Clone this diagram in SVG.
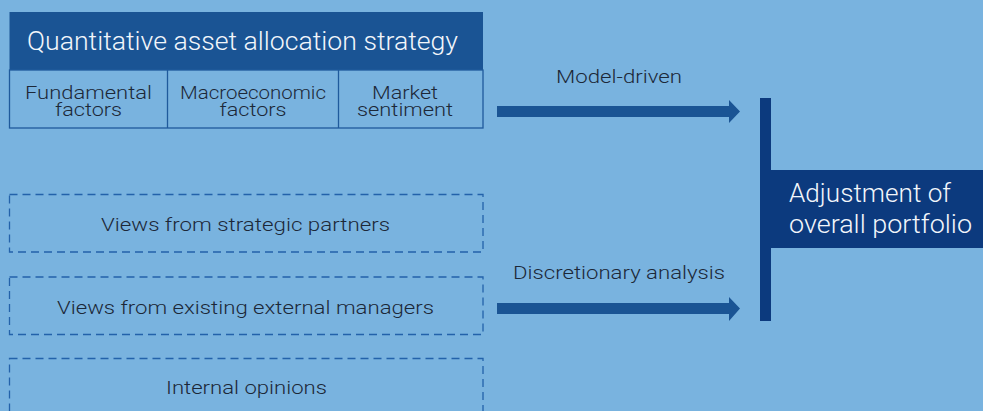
<svg xmlns="http://www.w3.org/2000/svg" width="983" height="411" viewBox="0 0 983 411">
<style>
.dark{font-family:Roboto,"Liberation Sans",sans-serif;font-weight:300;fill:#1c2838;font-size:19px;text-anchor:middle}
.light{font-family:Roboto,"Liberation Sans",sans-serif;font-weight:300;fill:#f2f6fb;font-size:25px}
.cell{fill:none;stroke:#1f5a9c;stroke-width:1.3}
.dash{fill:none;stroke:#2362aa;stroke-width:1.3;stroke-dasharray:8 5}
.arrow{fill:#1a5494}
</style>
<rect width="983" height="411" fill="#79b3df"/>
<g id="quant">
<rect x="9.5" y="12" width="473.5" height="58" fill="#1a5494"/>
<text class="light" x="27" y="50" textLength="431" lengthAdjust="spacingAndGlyphs">Quantitative asset allocation strategy</text>
<rect class="cell" x="9.5" y="70" width="473.5" height="58"/>
<line class="cell" x1="167.5" y1="70" x2="167.5" y2="128"/>
<line class="cell" x1="338.5" y1="70" x2="338.5" y2="128"/>
</g>
<g id="fundamental"><text class="dark" x="88.5" y="98.5" textLength="127" lengthAdjust="spacingAndGlyphs">Fundamental</text><text class="dark" x="88.5" y="116" textLength="67" lengthAdjust="spacingAndGlyphs">factors</text></g>
<g id="macro"><text class="dark" x="253" y="98.5" textLength="146" lengthAdjust="spacingAndGlyphs">Macroeconomic</text><text class="dark" x="253" y="116" textLength="67" lengthAdjust="spacingAndGlyphs">factors</text></g>
<g id="market"><text class="dark" x="405" y="98.5" textLength="66" lengthAdjust="spacingAndGlyphs">Market</text><text class="dark" x="405" y="116" textLength="96" lengthAdjust="spacingAndGlyphs">sentiment</text></g>
<g id="partners"><rect class="dash" x="9.5" y="194.5" width="473.5" height="57.5"/><text class="dark" x="245.5" y="231" textLength="289" lengthAdjust="spacingAndGlyphs">Views from strategic partners</text></g>
<g id="managers"><rect class="dash" x="9.5" y="277" width="473.5" height="57.5"/><text class="dark" x="245.5" y="314" textLength="377" lengthAdjust="spacingAndGlyphs">Views from existing external managers</text></g>
<g id="internal"><rect class="dash" x="9.5" y="358.5" width="473.5" height="60"/><text class="dark" x="246.5" y="394" textLength="161" lengthAdjust="spacingAndGlyphs">Internal opinions</text></g>
<g id="adjustment">
<rect x="771" y="170" width="212" height="78" fill="#0c3a7e"/>
<text class="light" x="789" y="202" textLength="162" lengthAdjust="spacingAndGlyphs">Adjustment of</text>
<text class="light" x="789" y="233" textLength="183" lengthAdjust="spacingAndGlyphs">overall portfolio</text>
</g>
<g id="connectors">
<rect x="760" y="98" width="11" height="223" fill="#0c3a7e"/>
<polygon class="arrow" points="497,106 729,106 729,100 740,111.5 729,123 729,117 497,117"/>
<text class="dark" x="619" y="83" textLength="126" lengthAdjust="spacingAndGlyphs">Model-driven</text>
<polygon class="arrow" points="497,303 729,303 729,297 740,308.5 729,321 729,314 497,314"/>
<text class="dark" x="619" y="279" textLength="212" lengthAdjust="spacingAndGlyphs">Discretionary analysis</text>
</g>
</svg>
